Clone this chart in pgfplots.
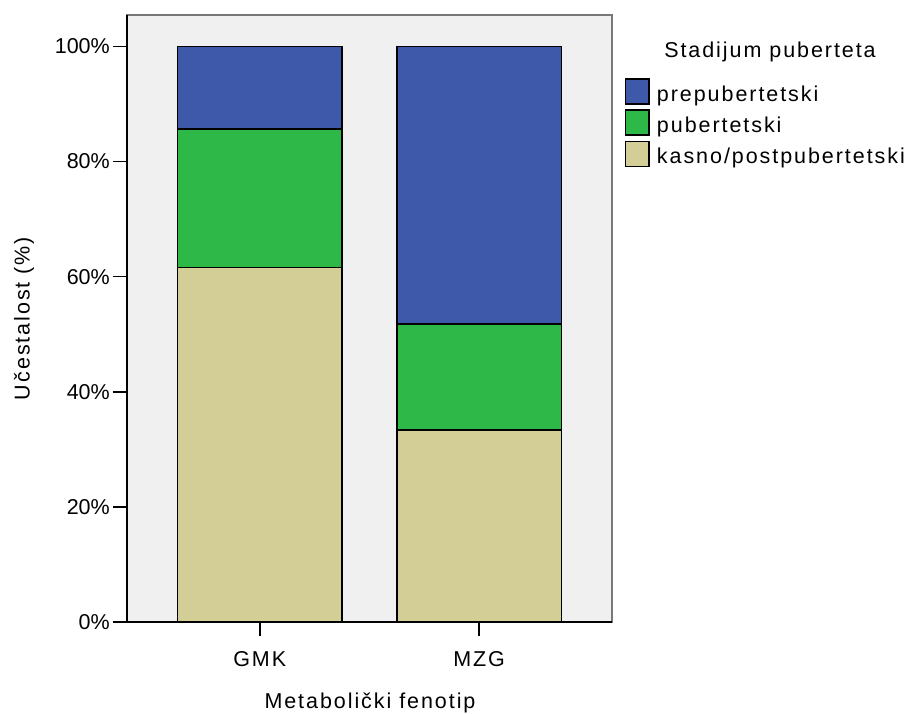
\documentclass[border=0pt]{standalone}
\usepackage{fontspec}
\setmainfont{Liberation Sans}
\newfontfamily\lbl[LetterSpace=9]{Liberation Sans}
\usepackage{pgfplots}
\usepackage{pgfplotstable}
\pgfplotsset{compat=1.18}
\definecolor{cblue}{RGB}{62,88,170}
\definecolor{cgreen}{RGB}{46,184,72}
\definecolor{ctan}{RGB}{211,206,150}
\definecolor{cbg}{RGB}{240,240,240}
\definecolor{cframe}{RGB}{120,120,120}
\pgfplotstableread{
x kasno pub pre
0 61.6 24.1 14.3
1 33.4 18.4 48.2
}\data
\begin{document}
\fontsize{21.5pt}{25pt}\selectfont
\begin{tikzpicture}
\useasboundingbox (0,0) rectangle (916pt,713pt);
\begin{axis}[
  at={(127pt,91pt)}, anchor=south west,
  scale only axis, width=485pt, height=607pt,
  ybar stacked, bar width=0.75,
  xmin=-0.605, xmax=1.606, ymin=0, ymax=105.47,
  enlargelimits=false,
  axis background/.style={fill=cbg},
  axis line style={draw=cframe, line width=1.6pt},
  tick pos=left, tick align=outside,
  major tick length=14pt,
  tick style={black, line width=1.6pt},
  xtick={0,1}, xticklabels={{\lbl GMK},{\lbl MZG}},
  ytick={0,20,40,60,80,100},
  yticklabels={0\%,20\%,40\%,60\%,80\%,100\%},
  yticklabel style={inner sep=0pt, anchor=east, xshift=-3pt},
  xticklabel style={inner sep=0pt, anchor=base, yshift=-30pt},
  xlabel={\lbl Metabolički fenotip},
  ylabel={\lbl Učestalost (\%)},
  xlabel style={at={(axis description cs:0.501,-0.1417)}, anchor=base, inner sep=0pt},
  ylabel style={at={(axis description cs:-0.2124,0.5)}, anchor=center, inner sep=0pt},
  every axis plot/.append style={draw=black, line width=1.5pt},
  reverse legend,
  legend image code/.code={\draw[#1,draw=black,line width=1.5pt] (0.75pt,-13pt) rectangle (24.25pt,12pt);},
  legend cell align=left,
  legend style={at={(axis description cs:1.0268,0.8962)}, anchor=north west,
    draw=none, fill=none, inner sep=0pt, outer sep=0pt,
    row sep=4.4pt, column sep=7pt,
    nodes={inner sep=0pt, outer sep=0pt, text height=23pt, text depth=3pt, font=\lbl}},
  after end axis/.code={
    \draw[black, line width=1.6pt] (rel axis cs:0,1) -- (rel axis cs:0,0) -- (rel axis cs:1,0);
  },
]
\addplot[fill=ctan] table[x=x,y=kasno]{\data};
\addlegendentry{kasno/postpubertetski}
\addplot[fill=cgreen] table[x=x,y=pub]{\data};
\addlegendentry{pubertetski}
\addplot[fill=cblue] table[x=x,y=pre]{\data};
\addlegendentry{prepubertetski}
\end{axis}
\node[anchor=base, inner sep=0pt] at (770pt,655pt) {\lbl Stadijum puberteta};
\end{tikzpicture}
\end{document}
